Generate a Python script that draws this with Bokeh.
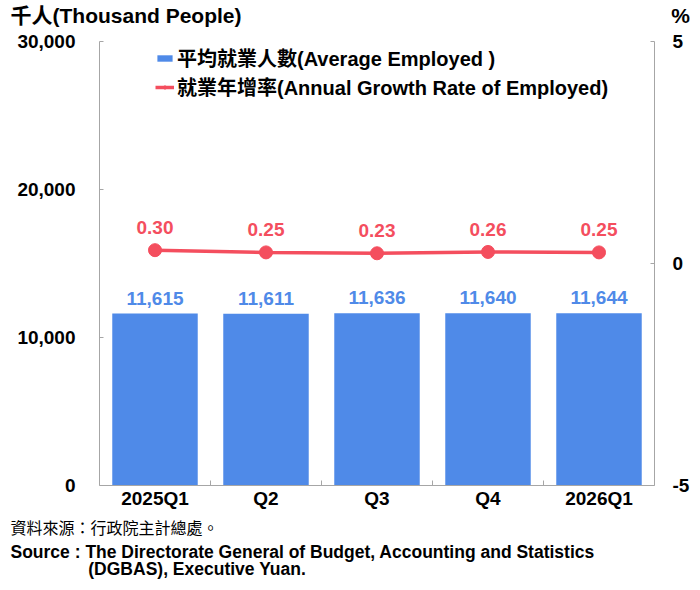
from bokeh.plotting import figure
from bokeh.layouts import column
from bokeh.models import (ColumnDataSource, Range1d, LinearAxis, FixedTicker, NumeralTickFormatter,
                          LabelSet, Label, Legend, LegendItem, Title)
from bokeh.core.properties import value
from bokeh.embed import file_html
from bokeh.resources import INLINE

categories = ["2025Q1", "Q2", "Q3", "Q4", "2026Q1"]
employed = [11615, 11611, 11636, 11640, 11644]
growth = [0.30, 0.25, 0.23, 0.26, 0.25]
left_ticks = [0, 10000, 20000, 30000]
right_ticks = [-5, 0, 5]

FONT = "Liberation Sans, Arial, Noto Sans CJK TC"
CJK = "Liberation Sans, Noto Sans CJK TC"
BLUE = "#4f8ae8"
RED = "#f44e5e"
AXIS = "#a6a6a6"

n = len(categories)
xpos = [i + 1 for i in range(n)]
src = ColumnDataSource(dict(
    x=xpos, emp=employed, gr=growth,
    emp_txt=[f"{v:,}" for v in employed],
    gr_txt=[f"{v:.2f}" for v in growth],
))

# ---- header strip with unit labels ----
HEAD_H = 29
head = figure(width=700, height=HEAD_H, x_range=Range1d(0, 700), y_range=Range1d(0, HEAD_H),
              output_backend="svg", toolbar_location=None, x_axis_type=None, y_axis_type=None,
              min_border=0, frame_align=False)
head.outline_line_color = None
head.xgrid.grid_line_color = None
head.ygrid.grid_line_color = None
head.add_layout(Label(x=10, y=14, text="千人(Thousand People)", text_font=CJK,
                      text_font_style="bold", text_font_size="21px", text_color="black",
                      text_baseline="middle", text_align="left"))
head.add_layout(Label(x=680, y=14, text="%", text_font=CJK,
                      text_font_style="bold", text_font_size="21px", text_color="black",
                      text_baseline="middle", text_align="center"))

# ---- main chart ----
p = figure(width=700, height=590 - HEAD_H, x_range=Range1d(0.5, n + 0.5),
           y_range=Range1d(0, 30000), output_backend="svg", toolbar_location=None,
           min_border_left=99, min_border_right=46, min_border_top=12, min_border_bottom=105,
           frame_align=False)
p.outline_line_color = None
p.xgrid.grid_line_color = None
p.ygrid.grid_line_color = None
p.background_fill_color = "white"

p.extra_y_ranges = {"rate": Range1d(-5, 5)}

bars = p.vbar(x="x", top="emp", width=0.77, source=src, fill_color=BLUE, line_color=None)
line = p.line(x="x", y="gr", source=src, y_range_name="rate", line_color=RED, line_width=3.5)
dots = p.scatter(x="x", y="gr", source=src, y_range_name="rate", size=13,
                 fill_color=RED, line_color=RED)

# left axis
ya = p.yaxis[0]
ya.ticker = FixedTicker(ticks=left_ticks)
ya.formatter = NumeralTickFormatter(format="0,0")
ya.axis_line_color = AXIS
ya.major_tick_line_color = AXIS
ya.major_tick_out = 0
ya.major_tick_in = 4
ya.minor_tick_line_color = None
ya.major_label_text_font = FONT
ya.major_label_text_font_style = "bold"
ya.major_label_text_font_size = "19px"
ya.major_label_text_color = "black"
ya.major_label_standoff = 24

# right axis
ra = LinearAxis(y_range_name="rate", ticker=FixedTicker(ticks=right_ticks))
ra.axis_line_color = AXIS
ra.major_tick_line_color = AXIS
ra.major_tick_out = 0
ra.major_tick_in = 4
ra.minor_tick_line_color = None
ra.major_label_overrides = {t: str(t) for t in right_ticks}
ra.major_label_text_font = FONT
ra.major_label_text_font_style = "bold"
ra.major_label_text_font_size = "19px"
ra.major_label_text_color = "black"
ra.major_label_standoff = 18
p.add_layout(ra, "right")

# x axis: category names at bar centres, small ticks at category boundaries
xa = p.xaxis[0]
xa.ticker = FixedTicker(ticks=xpos, minor_ticks=[x + 0.5 for x in xpos[:-1]])
xa.major_label_overrides = {x: c for x, c in zip(xpos, categories)}
xa.axis_line_color = AXIS
xa.major_tick_line_color = None
xa.major_tick_out = 0
xa.major_tick_in = 0
xa.minor_tick_line_color = AXIS
xa.minor_tick_in = 5
xa.minor_tick_out = 0
xa.major_label_text_font = FONT
xa.major_label_text_font_style = "bold"
xa.major_label_text_font_size = "19px"
xa.major_label_text_color = "black"
xa.major_label_standoff = 2

# data labels
p.add_layout(LabelSet(x="x", y="emp", text="emp_txt", source=src, y_offset=9,
                      text_align="center", text_baseline="bottom",
                      text_font=value(FONT), text_font_style="bold",
                      text_font_size="19px", text_color=BLUE))
p.add_layout(LabelSet(x="x", y="gr", text="gr_txt", source=src, y_range_name="rate",
                      y_offset=16, text_align="center", text_baseline="bottom",
                      text_font=value(FONT), text_font_style="bold",
                      text_font_size="19px", text_color=RED))

# legend
legend = Legend(items=[
    LegendItem(label="平均就業人數(Average Employed )", renderers=[bars]),
    LegendItem(label="就業年增率(Annual Growth Rate of Employed)", renderers=[line, dots]),
], location=(56, 384), orientation="vertical")
legend.background_fill_alpha = 0
legend.border_line_alpha = 0
legend.padding = 0
legend.margin = 0
legend.spacing = -4
legend.label_height = 20
legend.glyph_height = 8
legend.glyph_width = 19
legend.label_standoff = 3
legend.label_text_font = CJK
legend.label_text_font_style = "bold"
legend.label_text_font_size = "20px"
legend.label_text_color = "black"
legend.label_text_baseline = "middle"
p.add_layout(legend)

# source notes (stacked below the x axis, first added is closest)
note_zh = "資料來源：行政院主計總處。"
note_en1 = "Source : The Directorate General of Budget, Accounting and Statistics"
note_en2 = "(DGBAS), Executive Yuan."
p.add_layout(Title(text=note_zh, align="left", offset=-89, standoff=2,
                   text_font="Noto Sans CJK TC", text_font_style="normal",
                   text_font_size="16px", text_color="black"), "below")
p.add_layout(Title(text=note_en1 + "\n" + "\u00a0" * 16 + note_en2, align="left", offset=-89,
                   standoff=1, text_font=CJK, text_font_style="bold", text_line_height=0.87,
                   text_font_size="17.5px", text_color="black"), "below")

layout = column(head, p, spacing=0)
open("out.html", "w").write(file_html(layout, INLINE))
